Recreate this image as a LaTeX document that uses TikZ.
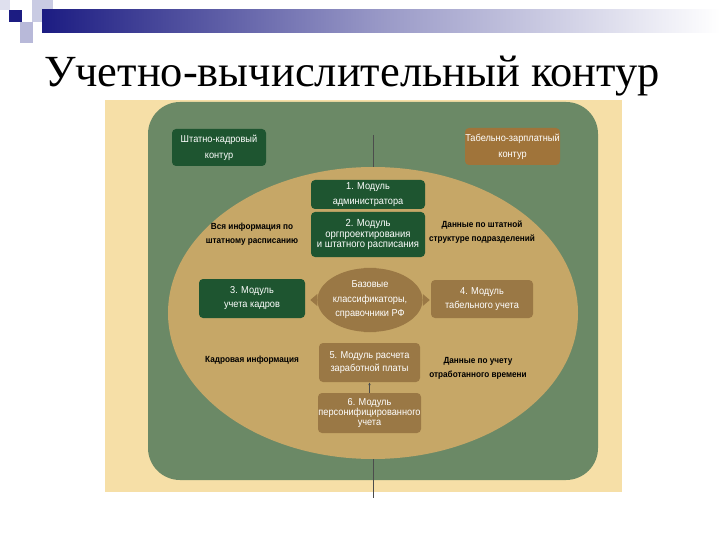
\documentclass[tikz,border=0pt]{standalone}
\usepackage{fontspec}
\setmainfont{Liberation Serif}
\newfontfamily\narrowfont{Liberation Sans}[FakeStretch=0.92]
\usetikzlibrary{shapes.geometric,arrows.meta}

\definecolor{bluscuro}{HTML}{1C1C82}
\definecolor{lavanda}{HTML}{C9CBE3}
\definecolor{fondo}{HTML}{F6DFA7}
\definecolor{verdegrigio}{HTML}{6B8966}
\definecolor{cachi}{HTML}{C6A767}
\definecolor{verdescuro}{HTML}{1E5530}
\definecolor{marrone}{HTML}{9A7845}
\definecolor{ocra}{HTML}{A0743A}

\begin{document}
\begin{tikzpicture}[x=1pt, y=-1pt,
    modbox/.style={rounded corners=4pt, text=white, align=center, inner sep=0pt,
        font=\narrowfont\fontsize{10}{10.5}\selectfont},
    verde/.style={modbox, fill=verdescuro},
    bruno/.style={modbox, fill=marrone},
    etichetta/.style={text=black, align=center, inner sep=0pt,
        font=\narrowfont\bfseries\fontsize{8.9}{14}\selectfont},
    linea/.style={draw=black!70, line width=0.6pt}]
    \useasboundingbox (0,0) rectangle (720,540);

    % Decorazione in alto
    \fill[lavanda!60] (0,0) rectangle (10,10);
    \fill[lavanda] (32,0) rectangle (53,22);
    \fill[lavanda!90!bluscuro] (20,22) rectangle (33,43);
    \shade[left color=bluscuro, right color=white, middle color=bluscuro!45] (42,10) rectangle (720,33);
    \fill[bluscuro] (9,10) rectangle (22,22);

    % Titolo
    \node[font=\fontsize{44.5}{44.5}\selectfont] (titolo) at (352,76) {Учетно-вычислительный контур};

    % Sfondo
    \fill[fondo] (105,100) rectangle (622,492);
    \fill[verdegrigio, rounded corners=32pt] (148,102) rectangle (598,480);
    \fill[cachi] (373,313) ellipse (205pt and 146pt);

    % Linee verticali
    \coordinate (su) at (373,135);
    \coordinate (ellsu) at (373,167);
    \coordinate (ellgiu) at (373,459);
    \coordinate (giu) at (373,498);
    \draw[linea] (su) -- (ellsu);
    \draw[linea] (ellgiu) -- (giu);

    % Contorni
    \node[verde, minimum width=94pt, minimum height=37pt, font=\narrowfont\fontsize{10}{16}\selectfont] (shtat) at (219,147.5) {Штатно-кадровый\\контур};
    \node[modbox, fill=ocra, minimum width=95pt, minimum height=37pt, font=\narrowfont\fontsize{10}{16}\selectfont] (tabel) at (512.5,146.5) {Табельно-зарплатный\\контур};

    % Moduli
    \node[verde, minimum width=114pt, minimum height=29pt, font=\narrowfont\fontsize{10}{15}\selectfont] (mod1) at (368,194.5) {1. Модуль\\администратора};
    \node[verde, minimum width=114pt, minimum height=45pt, font=\narrowfont\fontsize{10.3}{10.5}\selectfont] (mod2) at (368,234.5) {2. Модуль\\оргпроектирования\\и штатного расписания};
    \node[verde, minimum width=106pt, minimum height=39pt, font=\narrowfont\fontsize{10}{14}\selectfont] (mod3) at (252,298.5) {3. Модуль\\учета кадров};
    \node[bruno, minimum width=102pt, minimum height=38pt, font=\narrowfont\fontsize{10}{14}\selectfont] (mod4) at (482,299) {4. Модуль\\табельного учета};
    \node[bruno, minimum width=101pt, minimum height=39pt, font=\narrowfont\fontsize{10}{13}\selectfont] (mod5) at (369.5,362.5) {5. Модуль расчета\\заработной платы};
    \node[bruno, minimum width=103pt, minimum height=40pt, font=\narrowfont\fontsize{10}{10}\selectfont] (mod6) at (369.5,413) {6. Модуль\\персонифицированного\\учета};

    % Classificatori
    \node[ellipse, fill=marrone, text=white, align=center, inner sep=0pt, minimum width=104pt, minimum height=64pt,
        font=\narrowfont\fontsize{10}{14.5}\selectfont] (base) at (370,300) {Базовые\\классификаторы,\\справочники РФ};
    \fill[marrone] ([xshift=-6pt]base.north) -- ([yshift=-10pt]base.north) -- ([xshift=6pt]base.north) -- cycle;
    \fill[marrone] ([xshift=-6pt]base.south) -- ([yshift=10pt]base.south) -- ([xshift=6pt]base.south) -- cycle;
    \fill[marrone] ([yshift=-6pt]base.west) -- ([xshift=-7pt]base.west) -- ([yshift=6pt]base.west) -- cycle;
    \fill[marrone] ([yshift=-6pt]base.east) -- ([xshift=7pt]base.east) -- ([yshift=6pt]base.east) -- cycle;

    \draw[linea, line width=0.5pt, -{Latex[length=3pt,width=2.5pt]}] (mod6) -- (mod5);

    % Flussi di dati
    \node[etichetta] (info) at (252,234) {Вся информация по\\штатному расписанию};
    \node[etichetta] (struttura) at (482,232.5) {Данные по штатной\\структуре подразделений};
    \node[etichetta] (kadry) at (252,360) {Кадровая информация};
    \node[etichetta] (tempo) at (478,368.5) {Данные по учету\\отработанного времени};
\end{tikzpicture}
\end{document}
